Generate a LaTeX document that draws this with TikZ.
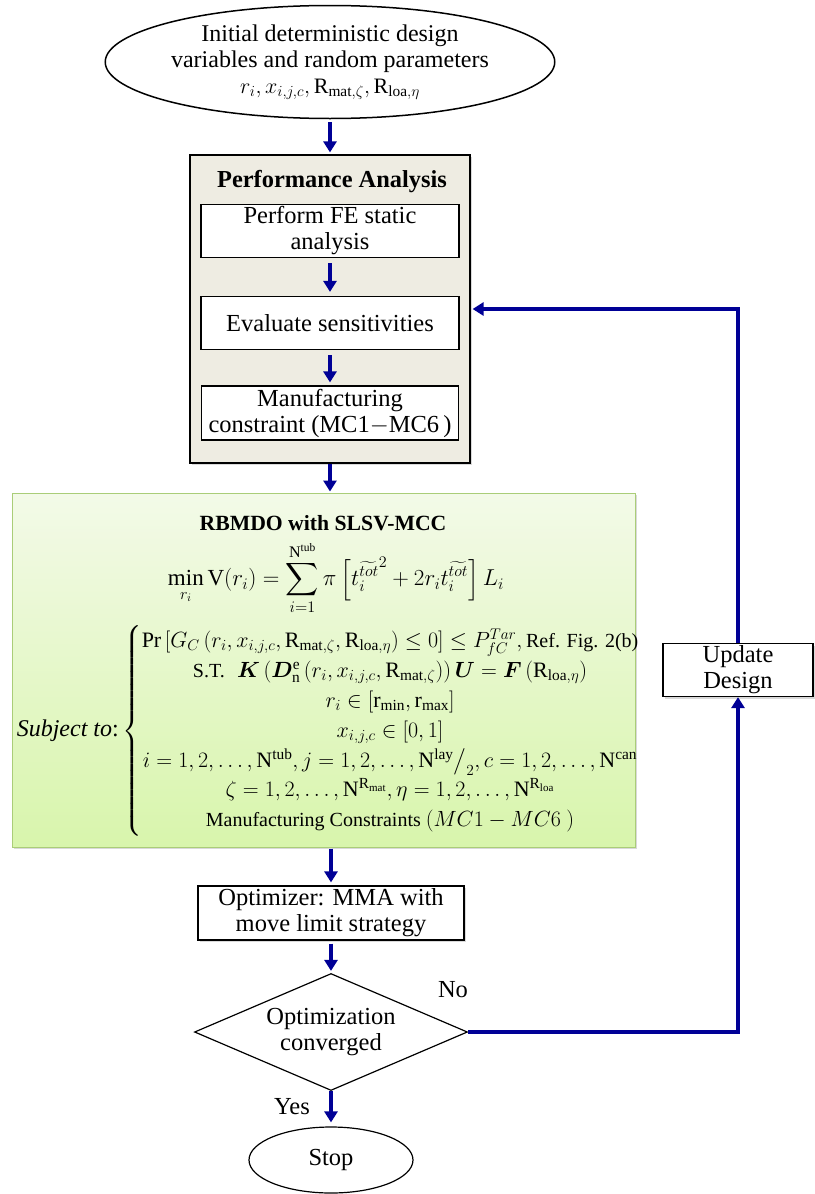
\RequirePackage{fix-cm}
\documentclass[tikz,border=0pt]{standalone}
\usepackage{amsmath,amssymb,bm}
\usepackage{fontspec}
\setmainfont{Liberation Serif}
\usepackage{tikz}
\usetikzlibrary{positioning}
\usetikzlibrary{shapes.geometric}
\usetikzlibrary{arrows.meta}
\usetikzlibrary{shadows}
\definecolor{navy}{RGB}{0,0,150}
\definecolor{beige}{RGB}{238,236,226}
\definecolor{lgreen}{RGB}{243,250,232}
\definecolor{dgreen}{RGB}{216,245,172}
\definecolor{gborder}{RGB}{170,205,120}
\tikzstyle{blk}=[draw,fill=white,rectangle,align=center,inner sep=0pt,line width=1.2pt]
\tikzstyle{flw}=[draw=navy,line width=3.5pt,-{Triangle[width=13pt,length=11pt]}]
\tikzstyle{shd}=[drop shadow={opacity=0.3,shadow xshift=2pt,shadow yshift=-2pt}]
\newcommand{\fs}[2]{\fontsize{#1}{#2}\selectfont}

\begin{document}
\begin{tikzpicture}[x=1pt,y=-1pt,every node/.style={font=\fs{24.5}{26}}]
\useasboundingbox (0,0) rectangle (814,1194);
\node[draw,ellipse,line width=1.5pt,minimum width=424pt,minimum height=113pt,inner sep=0pt,align=center,font=\fs{24}{26}] (init) at (330,62) {Initial deterministic design\\variables and random parameters\\{\fs{22}{26}$r_i, x_{i,j,c}, \mathrm{R}_{\mathrm{mat},\zeta}, \mathrm{R}_{\mathrm{loa},\eta}$}};

\node[draw,fill=beige,line width=1.2pt,minimum width=280pt,minimum height=308pt,shd] (perf) at (330,309) {};
\node[font=\fs{24.4}{26}\bfseries] (perft) at (332,182) {Performance Analysis};
\node[blk,minimum width=258pt,minimum height=53pt] (fe) at (330,231) {Perform FE static\\analysis};
\node[blk,minimum width=258pt,minimum height=53pt] (sens) at (330,323) {Evaluate sensitivities};
\node[blk,minimum width=257pt,minimum height=54pt] (mc) at (330,413) {Manufacturing\\constraint (MC1$-$MC6\,)};

\node[draw=gborder,line width=1pt,top color=lgreen,bottom color=dgreen,minimum width=623pt,minimum height=354pt,shd] (rbm) at (323.5,670) {};
\node[font=\fs{21.7}{26}\bfseries] (rbt) at (323,523) {RBMDO with SLSV-MCC};
\node[font=\fs{23}{26}] (obj) at (336,578) {$\displaystyle \min_{r_i} \mathrm{V}(r_i) = \sum_{i=1}^{\mathrm{N}^{\mathrm{tub}}} \pi \left[ {t_i^{\widetilde{tot}}}^2 + 2 r_i t_i^{\widetilde{tot}} \right] L_i$};
\node[font=\fs{22}{26},anchor=west,inner sep=0pt] (cons) at (122,731) {\renewcommand{\arraystretch}{1.15}$\left\{\begin{array}{@{}c@{}}
\mathrm{Pr}\left[G_C\left(r_i, x_{i,j,c}, \mathrm{R}_{\mathrm{mat},\zeta}, \mathrm{R}_{\mathrm{loa},\eta}\right)\le 0\right]\le P_{fC}^{Tar}, \text{\fs{20}{24}Ref. Fig. 2(b)}\\
\text{\fs{20}{24}S.T.}\;\; \boldsymbol{K}\left(\boldsymbol{D}_{\mathrm{n}}^{\mathrm{e}}\left(r_i, x_{i,j,c}, \mathrm{R}_{\mathrm{mat},\zeta}\right)\right)\boldsymbol{U} = \boldsymbol{F}\left(\mathrm{R}_{\mathrm{loa},\eta}\right)\\
r_i\in[\mathrm{r}_{\min},\mathrm{r}_{\max}]\\
x_{i,j,c}\in[0,1]\\
i=1,2,\dots,\mathrm{N}^{\mathrm{tub}}, j=1,2,\dots,\mathrm{N}^{\mathrm{lay}}\big/_{2}, c=1,2,\dots,\mathrm{N}^{\mathrm{can}}\\
\zeta=1,2,\dots,\mathrm{N}^{\mathrm{R}_{\mathrm{mat}}}, \eta=1,2,\dots,\mathrm{N}^{\mathrm{R}_{\mathrm{loa}}}\\
\text{\fs{20}{24}Manufacturing Constraints } (MC1-MC6\ )
\end{array}\right.$};
\node[font=\fs{24}{26}\itshape,left=3pt of cons,inner sep=0pt] (subj) {Subject to\upshape:};

\node[blk,shd,minimum width=266pt,minimum height=54pt] (opt) at (331,913) {Optimizer: MMA with\\move limit strategy};
\node[draw,diamond,aspect=2.33,minimum width=273pt,minimum height=117pt,inner sep=0pt,line width=1.2pt,align=center,fill=white] (conv) at (331,1032) {Optimization\\converged};
\node[draw,ellipse,minimum width=164pt,minimum height=66pt,line width=1.2pt] (stop) at (331,1160) {Stop};
\node[blk,shd,minimum width=150pt,minimum height=53pt] (upd) at (738,670) {Update\\Design};
\node (no) at (453,990) {No};
\node (yes) at (292,1107) {Yes};

\draw[flw,shorten <=3pt,shorten >=2pt] (init.south -| perf.north) -- (perf.north);
\draw[flw,shorten <=5pt,shorten >=4pt] (fe) -- (sens);
\draw[flw,shorten <=5pt,shorten >=3pt] (sens) -- (mc);
\draw[flw,shorten >=1pt] (perf.south) -- (perf.south |- rbm.north);
\draw[flw,shorten <=1pt,shorten >=3pt] (rbm.south -| opt.north) -- (opt.north);
\draw[flw,shorten <=3pt,shorten >=2pt] (opt) -- (conv);
\draw[flw,shorten >=4pt] (conv) -- (stop);
\draw[flw] (conv.east) -| (upd.south);
\draw[flw,shorten >=2pt] (upd.north) |- (perf.east);
\end{tikzpicture}
\end{document}
